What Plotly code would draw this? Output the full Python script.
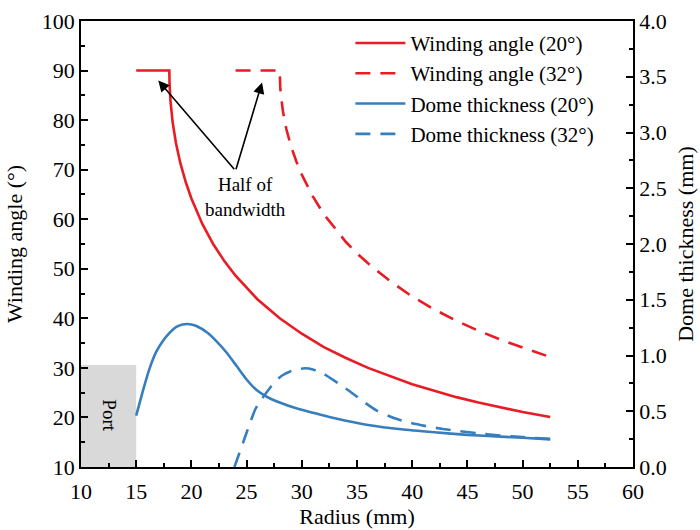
import plotly.graph_objects as go

# Winding angle (left axis)
r_20 = [15, 18.0, 18.02, 18.05, 18.1, 18.3, 18.6, 19, 19.5, 20, 21, 22, 23, 24, 25, 26, 28, 30, 32, 34, 36, 38, 40, 42, 44, 46, 48, 50, 52.5]
a_20 = [90, 90, 87.3, 85.7, 84.0, 79.6, 75.4, 71.3, 67.4, 64.2, 59.0, 54.9, 51.5, 48.6, 46.1, 43.8, 40.0, 36.9, 34.2, 32.0, 30.0, 28.3, 26.7, 25.4, 24.1, 23.0, 22.0, 21.1, 20.1]
r_32 = [24, 28.0, 28.05, 28.1, 28.3, 28.6, 29, 29.5, 30, 31, 32, 33, 34, 35, 36, 38, 40, 42, 44, 46, 48, 50, 52.5]
a_32 = [90, 90, 86.6, 85.2, 81.7, 78.2, 74.9, 71.7, 69.0, 64.6, 61.0, 58.1, 55.4, 53.1, 51.1, 47.5, 44.4, 41.8, 39.5, 37.5, 35.7, 34.1, 32.2]

# Dome thickness (right axis)
t20_x = [15.0, 15.6, 16.2, 16.8, 17.4, 18.0, 18.6, 19.2, 19.6, 20.0, 20.5, 21.4, 22.3, 23.2, 24.1, 25.0, 25.9, 26.8, 28.0, 29.5, 31.0, 32.5, 34.0, 36.0, 39.0, 42.0, 45.0, 48.0, 50.0, 52.5]
t20_y = [0.46, 0.68, 0.88, 1.03, 1.128, 1.20, 1.255, 1.278, 1.282, 1.278, 1.262, 1.208, 1.125, 1.025, 0.905, 0.785, 0.69, 0.632, 0.578, 0.526, 0.487, 0.448, 0.415, 0.377, 0.338, 0.311, 0.288, 0.272, 0.262, 0.248]
t32_x = [23.9, 24.4, 24.9, 25.4, 25.8, 26.3, 26.7, 27.2, 27.7, 28.3, 28.9, 29.6, 30.3, 31.0, 32.0, 33.3, 34.4, 35.7, 36.8, 38.4, 39.8, 41.5, 42.8, 44.3, 46.0, 48.0, 50.0, 52.5]
t32_y = [0.0, 0.14, 0.28, 0.42, 0.52, 0.60, 0.655, 0.72, 0.78, 0.825, 0.855, 0.876, 0.885, 0.875, 0.834, 0.75, 0.675, 0.578, 0.505, 0.437, 0.397, 0.362, 0.341, 0.322, 0.302, 0.283, 0.268, 0.252]

# Port region
port_x = [10, 15]
port_y = [10, 30.6]

RED = "rgb(232,28,36)"
BLUE = "rgb(55,126,190)"
FONT = "Liberation Serif"
DASH = "15px,10px"

fig = go.Figure()
fig.add_trace(go.Scatter(x=r_20, y=a_20, mode="lines", name="Winding angle (20°)",
                         line=dict(color=RED, width=2.6)))
fig.add_trace(go.Scatter(x=r_32, y=a_32, mode="lines", name="Winding angle (32°)",
                         line=dict(color=RED, width=2.6, dash=DASH)))
fig.add_trace(go.Scatter(x=t20_x, y=t20_y, mode="lines", name="Dome thickness (20°)",
                         line=dict(color=BLUE, width=2.6, shape="spline", smoothing=0.5), yaxis="y2"))
fig.add_trace(go.Scatter(x=t32_x, y=t32_y, mode="lines", name="Dome thickness (32°)",
                         line=dict(color=BLUE, width=2.6, dash=DASH, shape="spline", smoothing=0.5),
                         yaxis="y2"))

fig.add_shape(type="rect", x0=port_x[0], x1=port_x[1], y0=port_y[0], y1=port_y[1],
              xref="x", yref="y", fillcolor="rgb(217,217,217)", line=dict(width=0), layer="below")
fig.add_annotation(x=(port_x[0] + port_x[1]) / 2, y=20.5, xref="x", yref="y", text="Port",
                   showarrow=False, textangle=90, font=dict(family=FONT, size=19, color="black"))

# Arrows
for hx, hy in [(17.0, 88.0), (26.4, 87.6)]:
    fig.add_annotation(x=hx, y=hy, ax=24.0, ay=69.8, xref="x", yref="y", axref="x", ayref="y",
                       text="", showarrow=True, arrowhead=2, arrowsize=1.4, arrowwidth=1.6,
                       arrowcolor="black")
fig.add_annotation(x=24.9, y=64.5, xref="x", yref="y", text="Half of<br>bandwidth",
                   showarrow=False, font=dict(family=FONT, size=19, color="black"))

axis_common = dict(showline=True, linecolor="black", linewidth=1.5, ticks="inside",
                   tickcolor="black", tickwidth=1.5, ticklen=7, showgrid=False, zeroline=False,
                   automargin=False,
                   tickfont=dict(family=FONT, size=22, color="black"),
                   title_font=dict(family=FONT, size=22, color="black"))

fig.update_layout(
    width=700, height=530,
    margin=dict(l=81, r=67, t=21, b=63),
    plot_bgcolor="white", paper_bgcolor="white",
    font=dict(family=FONT, size=22, color="black"),
    xaxis=dict(range=[10, 60], dtick=5, mirror=True, ticklabelstandoff=4,
               title=dict(text="Radius (mm)", standoff=5),
               minor=dict(ticks="inside", dtick=2.5, ticklen=4, tickcolor="black", tickwidth=1.5),
               **axis_common),
    yaxis=dict(range=[10, 100], dtick=10, title=dict(text="Winding angle (°)", standoff=13),
               minor=dict(ticks="inside", dtick=5, ticklen=4, tickcolor="black", tickwidth=1.5),
               **axis_common),
    yaxis2=dict(range=[0, 4], dtick=0.5, tickformat=".1f", overlaying="y", side="right",
                title=dict(text="Dome thickness (mm)", standoff=12),
                minor=dict(ticks="inside", dtick=0.25, ticklen=4, tickcolor="black", tickwidth=1.5),
                **axis_common),
    legend=dict(x=0.488, y=0.996, xanchor="left", yanchor="top", bgcolor="rgba(0,0,0,0)",
                font=dict(family=FONT, size=21, color="black"), itemwidth=50,
                tracegroupgap=0),
    showlegend=True,
)

fig.write_html("out.html")
